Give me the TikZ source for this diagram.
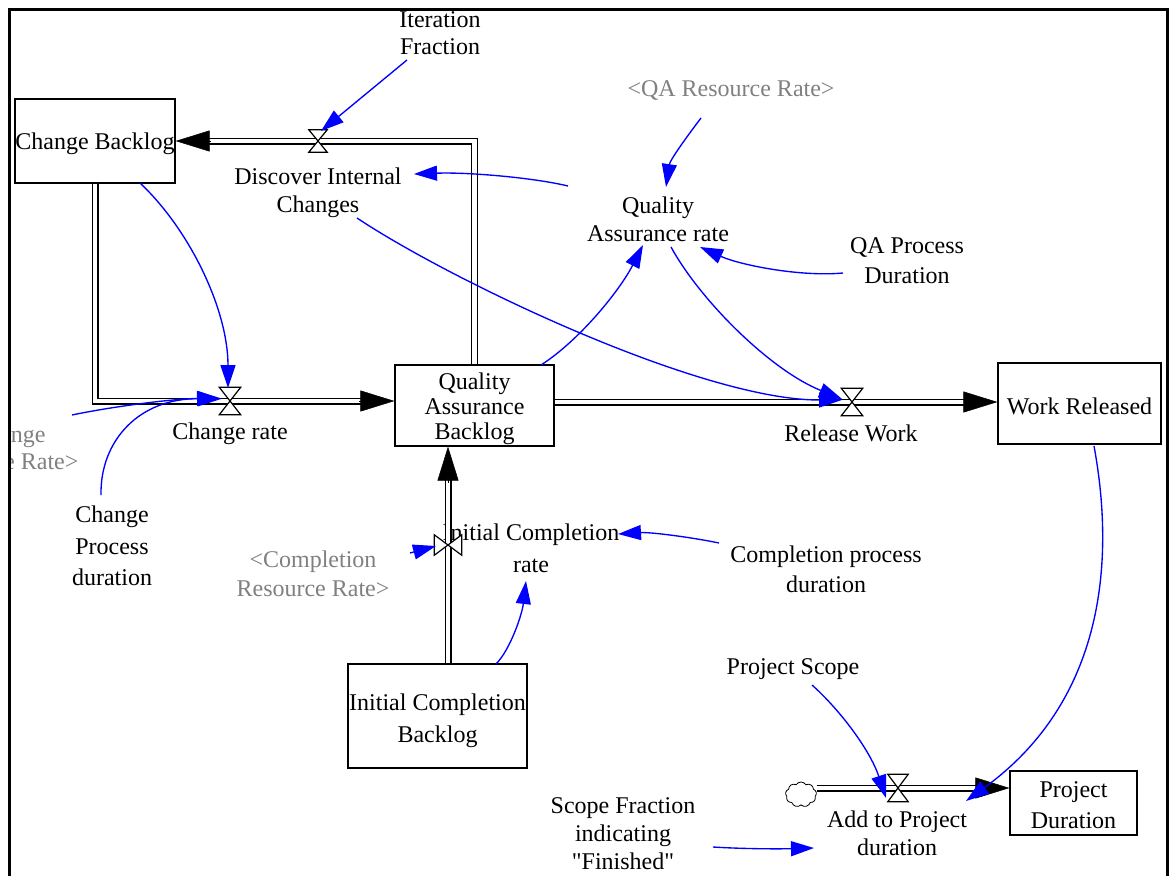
\documentclass[tikz,border=0pt]{standalone}
\usepackage{fontspec}
\setmainfont{Liberation Serif}[Ligatures=TeXOff]
\usetikzlibrary{arrows.meta,shapes.symbols}

\definecolor{linkblue}{RGB}{0,0,255}
\definecolor{shadowgray}{RGB}{128,128,128}

% hourglass valve on a horizontal pipe
\newcommand\valveshape[1]{%
  \draw[valveline] (#1.north west) -- (#1.north east) -- (#1.south west) -- (#1.south east) -- cycle;}
% bow-tie valve on a vertical pipe
\newcommand\valveside[1]{%
  \draw[valveline] (#1.north west) -- (#1.south west) -- (#1.north east) -- (#1.south east) -- cycle;}
% invisible strut that lowers a stock's text a little
\newcommand\stocklift[1]{\rule{0pt}{#1}}

\begin{document}
\begin{tikzpicture}[x=1pt, y=-1pt,
  fs/.style={font=\fontsize{24}{#1}\selectfont},
  fs/.default=28,
  txt/.style={fs=#1, align=center, inner sep=1pt, yshift=-2.5pt},
  txt/.default=29,
  shadowvar/.style={text=shadowgray},
  stock/.style={draw=black, fill=white, line width=1.2pt, inner sep=0pt, align=center},
  valvebox/.style={inner sep=0pt, minimum width=#1},
  valveline/.style={draw=black, fill=white, line width=1.2pt, line join=miter},
  pipe/.style={draw=black, line width=1.4pt, double=white, double distance=4.2pt},
  pipehead/.style={draw=black, line width=0.5pt, -{Triangle[length=34pt, width=21pt]}},
  infolink/.style={draw=linkblue, line width=1.35pt, -{Triangle[length=23pt, width=15pt]}},
  cloudy/.style={cloud, cloud puffs=9, cloud puff arc=115, aspect=1.25, draw=black,
    line width=0.8pt, fill=white, inner sep=0pt, minimum width=31pt, minimum height=25pt}
]
\useasboundingbox (0,0) rectangle (1169,875);

\begin{scope}
\clip (11,11.5) rectangle (1166,875);

% stocks
\node[stock, fs, minimum width=160pt, minimum height=84pt] (cb) at (95,141) {\stocklift{22.5pt}Change Backlog};
\node[stock, fs=25, minimum width=159pt, minimum height=81pt] (qab) at (474.5,405.5) {\stocklift{22.5pt}Quality\\Assurance\\Backlog};
\node[stock, fs, minimum width=163pt, minimum height=81pt] (wr) at (1079.5,403.5) {\stocklift{22.5pt}Work Released};
\node[stock, fs=32, minimum width=179pt, minimum height=104pt] (icb) at (437.5,716) {\stocklift{26.4pt}Initial Completion\\Backlog};
\node[stock, fs=31, minimum width=127pt, minimum height=64pt] (pd) at (1073.5,803) {\stocklift{20.4pt}Project\\Duration};

% source cloud
\node[cloudy] (cl) at (801,794.5) {};

% valves
\node[valvebox=18pt, minimum height=22pt] (dv) at (318,141) {};
\node[valvebox=21pt, minimum height=27pt] (crv) at (230,401) {};
\node[valvebox=21pt, minimum height=27pt] (rwv) at (852,402) {};
\node[valvebox=27pt, minimum height=20pt] (icv) at (448,545) {};
\node[valvebox=20pt, minimum height=27pt] (apv) at (898,788) {};

% pipe end points
\coordinate (qabL) at (qab.west |- crv);
\coordinate (qabR) at (qab.east |- rwv);
\coordinate (wrL) at (wr.west |- rwv);
\coordinate (qabB) at (qab.south -| icv);
\coordinate (icbT) at (icb.north -| icv);
\coordinate (pdL) at (pd.west |- apv);
\coordinate (clR) at (cl.east |- apv);

% variables and rate labels
\node[txt=27] (itf) at (440,30.5) {Iteration\\Fraction};
\node[txt=28] (dic) at (318,190) {Discover Internal\\Changes};
\node[txt=28] (qar) at (658,217) {Quality\\Assurance rate};
\node[txt=30] (qapd) at (907,258) {QA Process\\Duration};
\node[txt, shadowvar] (qarr) at (731,88) {\textless QA Resource Rate\textgreater};
\node[txt=27, shadowvar] (crr) at (2,445.5) {\textless Change\\Resource Rate\textgreater};
\node[txt=31.5] (cpd) at (112,543.5) {Change\\Process\\duration};
\node[txt=29, shadowvar] (comr) at (313,571.5) {\textless Completion\\Resource Rate\textgreater};
\node[txt=32] (icr) at (531,546) {Initial Completion\\rate};
\node[txt=30] (cpdur) at (826,567) {Completion process\\duration};
\node[txt] (ps) at (793,667) {Project Scope};
\node[txt=28] (sf) at (623,831) {Scope Fraction\\indicating\\"Finished"};
\node[txt=28] (apd) at (897,831) {Add to Project\\duration};
\node[txt] (crl) at (230,431) {Change rate};
\node[txt] (rwl) at (851,431) {Release Work};

% material flows
\draw[pipe, shorten >=30pt] (qab.north) |- (cb.east);
\draw[pipe, shorten >=30pt] (cb.south) |- (qabL);
\draw[pipe, shorten >=28pt] (qabR) -- (wrL);
\draw[pipe, shorten >=30pt] (icbT) -- (qabB);
\draw[pipe, shorten >=28pt] (clR) -- (pdL);

\valveshape{dv}
\valveshape{crv}
\valveshape{rwv}
\valveside{icv}
\valveshape{apv}

\draw[pipehead] ([xshift=35pt]cb.east) -- (cb.east);
\draw[pipehead] ([xshift=-35pt]qabL) -- (qabL);
\draw[pipehead] ([xshift=-33pt]wrL) -- (wrL);
\draw[pipehead] ([yshift=-36pt]qabB) -- (qabB);
\draw[pipehead] ([xshift=-33pt]pdL) -- (pdL);

% information links
\draw[infolink] ([shift={(-33,27)}]itf.center) -- ([shift={(3,-10)}]dv.center);
\draw[infolink] ([shift={(-90,-33.5)}]qar.center) .. controls (535,178) and (470,172) .. ([shift={(96,-18.5)}]dic.center);
\draw[infolink] ([shift={(-30,27.5)}]qarr.center) .. controls (688,135) and (670,160) .. ([shift={(8,-32.5)}]qar.center);
\draw[infolink] ([shift={(-64,12.5)}]qapd.center) .. controls (800,277) and (740,265) .. ([shift={(42,27.5)}]qar.center);
\draw[infolink] ([shift={(66.5,-40.5)}]qab.center) .. controls (580,340) and (620,290) .. ([shift={(-15,25.5)}]qar.center);
\draw[infolink] ([shift={(13,27.5)}]qar.center) .. controls (700,300) and (770,370) .. ([shift={(-10,-3)}]rwv.center);
\draw[infolink] ([shift={(39,25.5)}]dic.center) .. controls (450,280) and (700,400) .. ([shift={(-10,-2)}]rwv.center);
\draw[infolink] ([shift={(45,42)}]cb.center) .. controls (190,230) and (228,310) .. ([shift={(-2,-13)}]crv.center);
\draw[infolink] ([shift={(70,-33)}]crr.center) .. controls (110,407) and (170,399) .. ([shift={(-10,-3)}]crv.center);
\draw[infolink] ([shift={(-11,-51)}]cpd.center) .. controls (100,440) and (140,398) .. ([shift={(-9,-2)}]crv.center);
\draw[infolink] ([shift={(97,-21)}]comr.center) -- ([shift={(-12,1)}]icv.center);
\draw[infolink] ([shift={(-107,-26.5)}]cpdur.center) .. controls (690,537) and (650,532) .. ([shift={(87,-14.5)}]icr.center);
\draw[infolink] ([shift={(58.5,-52)}]icb.center) .. controls (510,650) and (522,615) .. ([shift={(-5,32.5)}]icr.center);
\draw[infolink] ([shift={(14.5,42.5)}]wr.center) .. controls (1115,560) and (1105,700) .. ([shift={(69,-32.5)}]apd.center);
\draw[infolink] ([shift={(19,15.5)}]ps.center) .. controls (840,710) and (870,750) .. ([shift={(-12,10)}]apv.center);
\draw[infolink] ([shift={(90,13.5)}]sf.center) .. controls (745,849) and (780,849) .. ([shift={(-83,14.5)}]apd.center);
\end{scope}

% outer frame
\draw[line width=3pt] (9.5,10) rectangle (1167.5,900);
\end{tikzpicture}
\end{document}
